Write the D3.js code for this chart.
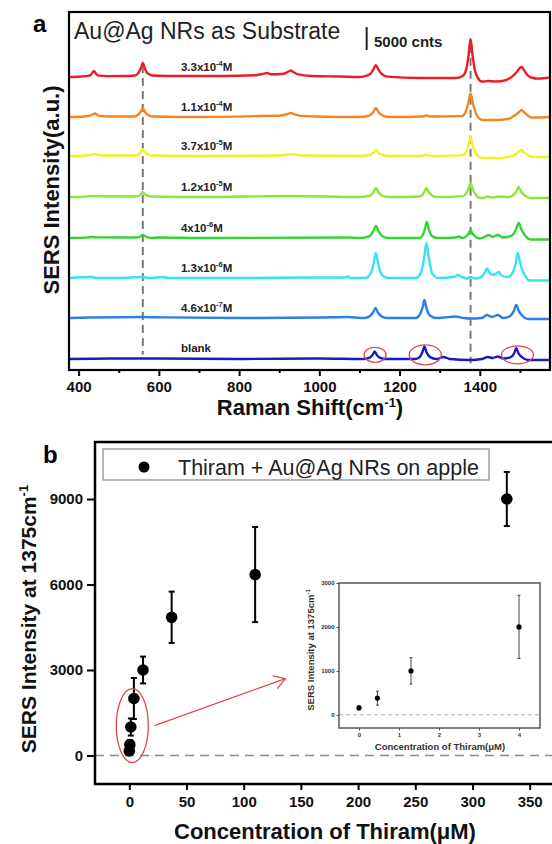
<!DOCTYPE html>
<html>
<head>
<meta charset="utf-8">
<script src="https://cdn.jsdelivr.net/npm/d3@7"></script>
<style>
  body { margin: 0; background: #fff; }
  svg { display: block; font-family: Arial, "Liberation Sans", sans-serif; }
  .tick text { font-weight: bold; }
</style>
</head>
<body>
<div id="chart"></div>
<script>
const width = 552;
const height = 844;

// ---------- panel a data: SERS spectra (Raman shift, counts above own baseline) ----------
const spec33e4 = [[376,0],[405,110],[426,300],[433,750],[438,1300],[443,750],[450,300],[470,200],[520,220],[540,350],[548,800],[555,1900],[560,3040],[565,1900],[572,800],[585,330],[650,220],[760,220],[840,400],[862,750],[870,870],[880,600],[905,650],[917,900],[923,1200],[929,1410],[935,1100],[945,650],[980,220],[1050,110],[1100,0],[1120,350],[1129,900],[1135,1700],[1141,2600],[1147,1700],[1154,800],[1170,100],[1250,-220],[1340,-220],[1358,300],[1366,1600],[1372,4700],[1377,8250],[1382,4700],[1388,1400],[1396,-300],[1405,-980],[1420,-870],[1440,-980],[1465,-650],[1482,200],[1492,1100],[1499,1900],[1504,2170],[1510,1500],[1518,500],[1530,-150],[1545,-330],[1575,-110]];
const spec11e4 = [[376,0],[415,110],[428,300],[435,550],[440,760],[445,550],[452,250],[480,110],[540,120],[548,500],[555,1150],[560,1840],[565,1150],[572,500],[585,110],[700,0],[850,220],[905,350],[920,650],[929,870],[938,600],[950,300],[990,110],[1100,0],[1122,250],[1134,1000],[1141,1950],[1148,1000],[1160,250],[1175,0],[1255,110],[1268,330],[1280,110],[1355,200],[1364,1000],[1371,2900],[1377,5100],[1383,2900],[1390,900],[1398,-300],[1408,-650],[1440,-650],[1470,-430],[1486,300],[1497,1000],[1504,1520],[1511,1000],[1520,300],[1532,-110],[1575,0]];
const spec37e5 = [[376,0],[420,110],[432,280],[440,430],[448,280],[460,110],[545,110],[552,450],[556,950],[560,1520],[564,950],[570,450],[582,110],[700,0],[900,110],[920,300],[929,430],[938,300],[955,110],[1100,0],[1126,250],[1135,750],[1141,1300],[1147,750],[1158,250],[1172,0],[1255,0],[1266,330],[1277,0],[1358,200],[1366,1000],[1372,2400],[1377,4120],[1382,2400],[1389,800],[1397,-100],[1408,-430],[1450,-430],[1485,200],[1495,800],[1503,1300],[1510,800],[1520,250],[1532,-220],[1575,-220]];
const spec12e5 = [[376,0],[425,150],[435,220],[445,180],[545,110],[552,350],[556,700],[560,1090],[564,700],[570,350],[582,110],[700,0],[929,220],[1100,0],[1126,300],[1135,1100],[1141,1950],[1147,1100],[1156,300],[1172,0],[1250,110],[1256,400],[1262,1100],[1267,1950],[1272,1100],[1280,400],[1292,0],[1358,200],[1366,800],[1372,1800],[1377,3040],[1382,1800],[1389,600],[1397,-100],[1407,-220],[1420,110],[1432,-110],[1445,110],[1470,0],[1482,350],[1491,1200],[1497,2170],[1503,1200],[1512,350],[1525,-220],[1575,-220]];
const spec4e6 = [[376,0],[425,150],[435,220],[445,150],[545,110],[553,330],[560,650],[567,330],[580,0],[600,110],[700,0],[1070,110],[1100,0],[1124,350],[1134,1400],[1141,2600],[1148,1400],[1158,350],[1172,0],[1250,0],[1257,500],[1263,1900],[1268,3470],[1273,1900],[1280,500],[1295,0],[1340,110],[1348,330],[1356,0],[1365,300],[1372,950],[1377,1740],[1382,950],[1390,250],[1400,-110],[1412,250],[1423,650],[1432,250],[1445,650],[1458,110],[1478,450],[1490,1800],[1497,3260],[1504,1800],[1514,450],[1527,-330],[1575,-330]];
const spec13e6 = [[376,0],[430,220],[445,0],[500,0],[560,220],[575,0],[610,220],[625,0],[800,0],[1000,110],[1065,110],[1071,330],[1078,0],[1115,0],[1126,700],[1135,3000],[1141,5430],[1147,3000],[1156,700],[1170,0],[1240,0],[1252,900],[1261,4200],[1267,7600],[1273,4200],[1282,900],[1297,0],[1335,220],[1346,650],[1356,220],[1368,-110],[1377,220],[1390,-110],[1404,250],[1412,1100],[1418,2060],[1425,1000],[1432,700],[1440,900],[1447,1300],[1455,500],[1470,200],[1481,1000],[1489,3000],[1495,5430],[1501,3000],[1511,800],[1525,-540],[1575,-540]];
const spec46e7 = [[376,0],[430,110],[560,220],[610,150],[800,0],[1000,110],[1071,220],[1110,0],[1124,300],[1134,1200],[1140,2170],[1146,1200],[1156,300],[1170,0],[1240,0],[1249,550],[1257,2150],[1262,3910],[1267,2150],[1276,550],[1292,0],[1310,110],[1340,330],[1360,0],[1377,-110],[1405,0],[1418,650],[1430,220],[1445,650],[1458,0],[1475,400],[1485,1550],[1491,2820],[1497,1550],[1507,400],[1520,-220],[1575,-220]];
const specBlank = [[376,0],[480,110],[600,110],[800,0],[1000,110],[1110,0],[1124,250],[1133,900],[1138,1630],[1143,900],[1152,250],[1166,0],[1240,0],[1250,400],[1257,1500],[1262,2710],[1267,1500],[1276,400],[1292,0],[1310,430],[1325,0],[1377,-220],[1405,0],[1420,430],[1432,220],[1445,540],[1458,110],[1476,350],[1486,1300],[1491,2390],[1496,1300],[1506,350],[1520,-220],[1575,-220]];

const spectra = [spec33e4, spec11e4, spec37e5, spec12e5, spec4e6, spec13e6, spec46e7, specBlank];
const offsets = [63580, 54900, 46440, 37540, 28640, 19960, 11280, 2390]; // stacking offsets (counts)
const mantissas = ['3.3x10', '1.1x10', '3.7x10', '1.2x10', '4x10', '1.3x10', '4.6x10', 'blank'];
const exponents = ['-4', '-4', '-5', '-5', '-6', '-6', '-7', ''];
const specColors = ['#ec1c24', '#f5861f', '#f2f226', '#8ee63a', '#2fd62f', '#35e4ee', '#2a80ea', '#1818cc'];
const markedShifts = [560, 1377];
const blankPeaks = [1139, 1264, 1494];
const xTicksA = [400, 600, 800, 1000, 1200, 1400];
const xMinorA = [500, 700, 900, 1100, 1300, 1500];

// ---------- panel b data ----------
const concB = [0, 0.46, 1.3, 4, 12, 37, 110, 330];
const meanB = [160, 380, 1000, 2000, 3000, 4850, 6350, 9000];
const errB = [50, 160, 300, 720, 470, 900, 1670, 950];
const xTicksB = [0, 50, 100, 150, 200, 250, 300, 350];
const yTicksB = [0, 3000, 6000, 9000];
const xTicksInset = [0, 1, 2, 3, 4];
const yTicksInset = [0, 1000, 2000, 3000];

const fmt = d3.format('d');

const svg = d3.select('#chart').append('svg')
  .attr('width', width).attr('height', height);

// ================= panel a =================
const A = { left: 69, right: 550, top: 12, bottom: 370 };
const xA = d3.scaleLinear().domain([376, 1575]).range([A.left, A.right]);
const yA = d3.scaleLinear().domain([0, 77700]).range([A.bottom, A.top]);

const gA = svg.append('g');

// dashed reference lines
gA.append('line')
  .attr('x1', xA(markedShifts[0])).attr('x2', xA(markedShifts[0]))
  .attr('y1', yA(offsets[0] + 2600)).attr('y2', yA(offsets[7] + 1000))
  .attr('stroke', '#7a7a7a').attr('stroke-width', 2).attr('stroke-dasharray', '8,5');
gA.append('line')
  .attr('x1', xA(markedShifts[1])).attr('x2', xA(markedShifts[1]))
  .attr('y1', yA(offsets[0] + 7000)).attr('y2', yA(offsets[7] - 1000))
  .attr('stroke', '#7a7a7a').attr('stroke-width', 2).attr('stroke-dasharray', '8,5');

const lineA = d3.line().curve(d3.curveMonotoneX);
spectra.forEach((s, i) => {
  gA.append('path')
    .attr('d', lineA(s.map(d => [xA(d[0]), yA(offsets[i] + d[1])])))
    .attr('fill', 'none')
    .attr('stroke', specColors[i])
    .attr('stroke-width', 2.4)
    .attr('stroke-linejoin', 'round');
});

// red circles around blank peaks
const ellW = [11, 16, 16];
const ellH = [7.5, 10, 9];
blankPeaks.forEach((p, i) => {
  gA.append('ellipse')
    .attr('cx', xA(p)).attr('cy', yA(offsets[7] + 900))
    .attr('rx', ellW[i]).attr('ry', ellH[i])
    .attr('fill', 'none').attr('stroke', '#e0474c').attr('stroke-width', 1.3);
});

// concentration labels
mantissas.forEach((m, i) => {
  const t = gA.append('text')
    .attr('x', xA(655)).attr('y', yA(offsets[i]) - 6.5)
    .attr('font-size', 11.5).attr('font-weight', 'bold').attr('fill', '#222');
  t.append('tspan').text(m);
  if (exponents[i]) {
    t.append('tspan').attr('dy', -5).attr('font-size', 7.5).text(exponents[i]);
    t.append('tspan').attr('dy', 5).text('M');
  }
});

// axes panel a
gA.append('g').attr('transform', `translate(0,${A.bottom})`)
  .call(d3.axisBottom(xA).tickValues(xMinorA).tickSize(3).tickFormat(''))
  .call(g => g.select('.domain').remove())
  .call(g => g.selectAll('line').attr('stroke-width', 2));
gA.append('g').attr('transform', `translate(0,${A.bottom})`)
  .call(d3.axisBottom(xA).tickValues(xTicksA).tickSize(6).tickPadding(5).tickFormat(fmt))
  .call(g => g.select('.domain').remove())
  .call(g => g.selectAll('line').attr('stroke-width', 2))
  .call(g => g.selectAll('text').attr('font-size', 15).attr('fill', '#111'));

gA.append('rect')
  .attr('x', A.left).attr('y', A.top)
  .attr('width', A.right - A.left).attr('height', A.bottom - A.top)
  .attr('fill', 'none').attr('stroke', '#000').attr('stroke-width', 2.2);

// title + scale bar
gA.append('text').attr('x', 74).attr('y', 39)
  .attr('font-size', 23).attr('fill', '#222').text('Au@Ag NRs as Substrate');
const barTop = 74430;
gA.append('line')
  .attr('x1', xA(1118)).attr('x2', xA(1118))
  .attr('y1', yA(barTop)).attr('y2', yA(barTop - 5000))
  .attr('stroke', '#222').attr('stroke-width', 2);
gA.append('text').attr('x', 374).attr('y', 47)
  .attr('font-size', 15).attr('font-weight', 'bold').attr('fill', '#222').text('5000 cnts');

// axis titles panel a
const xtA = gA.append('text').attr('x', 310).attr('y', 415)
  .attr('text-anchor', 'middle').attr('font-size', 22).attr('font-weight', 'bold').attr('fill', '#111');
xtA.append('tspan').text('Raman Shift(cm');
xtA.append('tspan').attr('dy', -8).attr('font-size', 13).text('-1');
xtA.append('tspan').attr('dy', 8).text(')');

gA.append('text')
  .attr('transform', `translate(59,${(A.top + A.bottom) / 2 - 1}) rotate(-90)`)
  .attr('text-anchor', 'middle').attr('font-size', 22).attr('font-weight', 'bold').attr('fill', '#111')
  .text('SERS Intensity(a.u.)');

svg.append('text').attr('x', 33).attr('y', 32)
  .attr('font-size', 24).attr('font-weight', 'bold').text('a');

// ================= panel b =================
const B = { left: 95, right: 564, top: 442, bottom: 784 };
const xB = d3.scaleLinear().domain([-30, 380]).range([B.left, B.right]);
const yB = d3.scaleLinear().domain([-1000, 11000]).range([B.bottom, B.top]);
const gB = svg.append('g');

gB.append('line')
  .attr('x1', B.left).attr('x2', B.right)
  .attr('y1', yB(0)).attr('y2', yB(0))
  .attr('stroke', '#8a8a8a').attr('stroke-width', 1.5).attr('stroke-dasharray', '9,6');

// error bars + dots
concB.forEach((c, i) => {
  const x = xB(c);
  gB.append('line').attr('x1', x).attr('x2', x)
    .attr('y1', yB(meanB[i] - errB[i])).attr('y2', yB(meanB[i] + errB[i]))
    .attr('stroke', '#000').attr('stroke-width', 2);
  [meanB[i] - errB[i], meanB[i] + errB[i]].forEach(v => {
    gB.append('line').attr('x1', x - 3).attr('x2', x + 3)
      .attr('y1', yB(v)).attr('y2', yB(v))
      .attr('stroke', '#000').attr('stroke-width', 2);
  });
});
gB.selectAll('circle.dot').data(concB).join('circle')
  .attr('class', 'dot')
  .attr('cx', d => xB(d)).attr('cy', (d, i) => yB(meanB[i]))
  .attr('r', 5.8).attr('fill', '#000');

// red ellipse + arrow
gB.append('ellipse')
  .attr('cx', xB(2.6)).attr('cy', yB(1050))
  .attr('rx', 16).attr('ry', 37)
  .attr('fill', 'none').attr('stroke', '#e0474c').attr('stroke-width', 1.3);
const ax0 = xB(22), ay0 = yB(1050), ax1 = xB(136.5), ay1 = yB(2700);
gB.append('line').attr('x1', ax0).attr('y1', ay0).attr('x2', ax1).attr('y2', ay1)
  .attr('stroke', '#e0474c').attr('stroke-width', 1.3);
const ang = Math.atan2(ay1 - ay0, ax1 - ax0);
[0.55, -0.55].forEach(da => {
  gB.append('line').attr('x1', ax1).attr('y1', ay1)
    .attr('x2', ax1 - 13 * Math.cos(ang + da)).attr('y2', ay1 - 13 * Math.sin(ang + da))
    .attr('stroke', '#e0474c').attr('stroke-width', 1.3);
});

// axes panel b
gB.append('g').attr('transform', `translate(0,${B.bottom})`)
  .call(d3.axisBottom(xB).tickValues(xTicksB).tickSize(6).tickPadding(6).tickFormat(fmt))
  .call(g => g.select('.domain').remove())
  .call(g => g.selectAll('line').attr('stroke-width', 2))
  .call(g => g.selectAll('text').attr('font-size', 15).attr('fill', '#111'));
gB.append('g').attr('transform', `translate(${B.left},0)`)
  .call(d3.axisLeft(yB).tickValues(yTicksB).tickSize(8).tickPadding(4).tickFormat(fmt))
  .call(g => g.select('.domain').remove())
  .call(g => g.selectAll('line').attr('stroke-width', 2))
  .call(g => g.selectAll('text').attr('font-size', 15).attr('fill', '#111'));

gB.append('rect')
  .attr('x', B.left).attr('y', B.top)
  .attr('width', B.right - B.left).attr('height', B.bottom - B.top)
  .attr('fill', 'none').attr('stroke', '#000').attr('stroke-width', 2.5);

// legend
gB.append('rect').attr('x', 103).attr('y', 449).attr('width', 386).attr('height', 31)
  .attr('fill', '#fff').attr('stroke', '#888').attr('stroke-width', 1.2);
gB.append('circle').attr('cx', 144).attr('cy', 467).attr('r', 5.5).attr('fill', '#000');
gB.append('text').attr('x', 178).attr('y', 475)
  .attr('font-size', 21.5).attr('fill', '#222').text('Thiram + Au@Ag NRs on apple');

// axis titles panel b
gB.append('text').attr('x', 325).attr('y', 839)
  .attr('text-anchor', 'middle').attr('font-size', 22).attr('font-weight', 'bold').attr('fill', '#111')
  .text('Concentration of Thiram(\u03bcM)');
const ytB = gB.append('text')
  .attr('transform', `translate(36,${(B.top + B.bottom) / 2 + 6}) rotate(-90)`)
  .attr('text-anchor', 'middle').attr('font-size', 21).attr('font-weight', 'bold').attr('fill', '#111');
ytB.append('tspan').text('SERS Intensity at 1375cm');
ytB.append('tspan').attr('dy', -8).attr('font-size', 13).text('-1');

svg.append('text').attr('x', 43).attr('y', 463)
  .attr('font-size', 24).attr('font-weight', 'bold').text('b');

// ================= inset =================
const I = { left: 339, right: 540, top: 583, bottom: 728 };
const xI = d3.scaleLinear().domain([-0.5, 4.525]).range([I.left, I.right]);
const yI = d3.scaleLinear().domain([-300, 3000]).range([I.bottom, I.top]);
const gI = svg.append('g');

gI.append('rect').attr('x', I.left).attr('y', I.top)
  .attr('width', I.right - I.left).attr('height', I.bottom - I.top)
  .attr('fill', '#fff');
gI.append('line').attr('x1', I.left).attr('x2', I.right)
  .attr('y1', yI(0)).attr('y2', yI(0))
  .attr('stroke', '#aaa').attr('stroke-width', 1).attr('stroke-dasharray', '4,3');

const nIn = 4;
concB.slice(0, nIn).forEach((c, i) => {
  const x = xI(c);
  gI.append('line').attr('x1', x).attr('x2', x)
    .attr('y1', yI(meanB[i] - errB[i])).attr('y2', yI(meanB[i] + errB[i]))
    .attr('stroke', '#444').attr('stroke-width', 1);
  [meanB[i] - errB[i], meanB[i] + errB[i]].forEach(v => {
    gI.append('line').attr('x1', x - 1.5).attr('x2', x + 1.5)
      .attr('y1', yI(v)).attr('y2', yI(v))
      .attr('stroke', '#444').attr('stroke-width', 1);
  });
  gI.append('circle').attr('cx', x).attr('cy', yI(meanB[i])).attr('r', 2.6).attr('fill', '#000');
});

gI.append('g').attr('transform', `translate(0,${I.bottom})`)
  .call(d3.axisBottom(xI).tickValues(xTicksInset).tickSize(2.5).tickPadding(2).tickFormat(fmt))
  .call(g => g.select('.domain').remove())
  .call(g => g.selectAll('line').attr('stroke', '#444'))
  .call(g => g.selectAll('text').attr('font-size', 6).attr('fill', '#333'));
gI.append('g').attr('transform', `translate(${I.left},0)`)
  .call(d3.axisLeft(yI).tickValues(yTicksInset).tickSize(2.5).tickPadding(2).tickFormat(fmt))
  .call(g => g.select('.domain').remove())
  .call(g => g.selectAll('line').attr('stroke', '#444'))
  .call(g => g.selectAll('text').attr('font-size', 6).attr('fill', '#333'));

gI.append('rect').attr('x', I.left).attr('y', I.top)
  .attr('width', I.right - I.left).attr('height', I.bottom - I.top)
  .attr('fill', 'none').attr('stroke', '#555').attr('stroke-width', 1.5);

gI.append('text').attr('x', 440).attr('y', 750)
  .attr('text-anchor', 'middle').attr('font-size', 9.5).attr('font-weight', 'bold').attr('fill', '#333')
  .text('Concentration of Thiram(\u03bcM)');
const ytI = gI.append('text')
  .attr('transform', `translate(314,650) rotate(-90)`)
  .attr('text-anchor', 'middle').attr('font-size', 9.5).attr('font-weight', 'bold').attr('fill', '#333');
ytI.append('tspan').text('SERS Intensity at 1375cm');
ytI.append('tspan').attr('dy', -4).attr('font-size', 6).text('-1');
</script>
</body>
</html>
